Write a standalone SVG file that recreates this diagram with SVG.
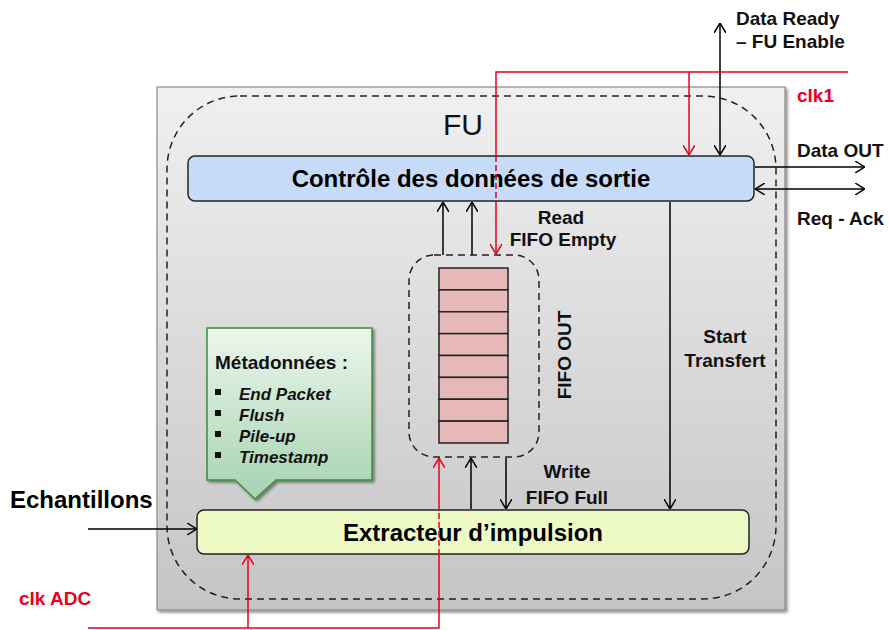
<svg xmlns="http://www.w3.org/2000/svg" width="889" height="630" viewBox="0 0 889 630">
<defs>
<linearGradient id="gFU" x1="0" y1="0" x2="0" y2="1">
<stop offset="0" stop-color="#f0f0f0"/>
<stop offset="1" stop-color="#c5c5c5"/>
</linearGradient>
<linearGradient id="gMeta" x1="0" y1="0" x2="0" y2="1">
<stop offset="0" stop-color="#ecf6ec"/>
<stop offset="1" stop-color="#a6d3b0"/>
</linearGradient>
<filter id="sh" x="-5%" y="-5%" width="110%" height="110%">
<feGaussianBlur in="SourceAlpha" stdDeviation="1.5"/>
<feOffset dx="1.5" dy="2" result="b"/>
<feComponentTransfer><feFuncA type="linear" slope="0.45"/></feComponentTransfer>
<feMerge><feMergeNode/><feMergeNode in="SourceGraphic"/></feMerge>
</filter>
<marker id="ak" viewBox="0 0 10 12" refX="10" refY="6" markerWidth="10" markerHeight="12" markerUnits="userSpaceOnUse" orient="auto-start-reverse">
<path d="M0,0 L10,6 L0,12" fill="none" stroke="#000" stroke-width="1.5"/>
</marker>
<marker id="ar" viewBox="0 0 10 12" refX="10" refY="6" markerWidth="10" markerHeight="12" markerUnits="userSpaceOnUse" orient="auto-start-reverse">
<path d="M0,0 L10,6 L0,12" fill="none" stroke="#e8001c" stroke-width="1.5"/>
</marker>
</defs>
<style>
text{font-family:"Liberation Sans",Arial,sans-serif;}
.b{font-weight:bold;fill:#000;}
.lbl{font-size:19px;font-weight:bold;fill:#111;}
.red{font-size:19px;font-weight:bold;fill:#e8001c;}
.bx{stroke:#222;stroke-width:1.5;}
.k{fill:none;stroke:#000;stroke-width:1.5;}
.r{fill:none;stroke:#e8001c;stroke-width:1.5;}
.rd{fill:none;stroke:#e8001c;stroke-width:1.5;stroke-dasharray:6 3;}
.dash{fill:none;stroke:#222;stroke-width:1.5;stroke-dasharray:7 5;}
.cell{fill:#e6b8b7;stroke:#222;stroke-width:1.5;}
.it{font-size:17px;font-weight:bold;font-style:italic;fill:#111;}
</style>
<rect width="889" height="630" fill="#fff"/>
<g id="fu">
<rect x="157" y="87" width="628" height="523" fill="url(#gFU)" stroke="#8a8a8a" stroke-width="1.2" filter="url(#sh)"/>
<rect x="167" y="96" width="609" height="503" rx="73" class="dash"/>
<text x="463" y="135" text-anchor="middle" font-size="30" fill="#111">FU</text>
</g>
<g id="controle">
<rect x="188" y="156" width="566" height="45" rx="7" fill="#c6dbf7" class="bx"/>
<text x="471" y="187" text-anchor="middle" class="b" font-size="24">Contrôle des données de sortie</text>
</g>
<g id="extracteur">
<rect x="197" y="510" width="552" height="44" rx="7" fill="#eefac6" class="bx"/>
<text x="473" y="541" text-anchor="middle" class="b" font-size="24">Extracteur d’impulsion</text>
</g>
<g id="fifo">
<rect x="409" y="255" width="130" height="202" rx="25" class="dash"/>
<rect x="439" y="268" width="69" height="21.875" class="cell"/>
<rect x="439" y="289.875" width="69" height="21.875" class="cell"/>
<rect x="439" y="311.75" width="69" height="21.875" class="cell"/>
<rect x="439" y="333.625" width="69" height="21.875" class="cell"/>
<rect x="439" y="355.5" width="69" height="21.875" class="cell"/>
<rect x="439" y="377.375" width="69" height="21.875" class="cell"/>
<rect x="439" y="399.25" width="69" height="21.875" class="cell"/>
<rect x="439" y="421.125" width="69" height="21.875" class="cell"/>
<text transform="translate(571 355) rotate(-90)" text-anchor="middle" class="lbl">FIFO OUT</text>
</g>
<g id="metadonnees">
<path d="M207,328 H372 V480 H276 L255,499 L235,480 H207 Z" fill="url(#gMeta)" stroke="#3b8f3b" stroke-width="1.5" filter="url(#sh)"/>
<text x="215" y="369" class="lbl">Métadonnées :</text>
<rect x="215" y="389" width="6" height="6" fill="#111"/>
<rect x="215" y="410" width="6" height="6" fill="#111"/>
<rect x="215" y="431" width="6" height="6" fill="#111"/>
<rect x="215" y="452" width="6" height="6" fill="#111"/>
<text x="239" y="400" class="it">End Packet</text>
<text x="239" y="421" class="it">Flush</text>
<text x="239" y="442" class="it">Pile-up</text>
<text x="239" y="463" class="it">Timestamp</text>
</g>
<g id="connectors">
<line x1="88" y1="529" x2="197" y2="529" class="k" marker-end="url(#ak)"/>
<line x1="443" y1="255" x2="443" y2="202" class="k" marker-end="url(#ak)"/>
<line x1="472" y1="255" x2="472" y2="202" class="k" marker-end="url(#ak)"/>
<line x1="720" y1="155" x2="720" y2="23" class="k" marker-start="url(#ak)" marker-end="url(#ak)"/>
<line x1="755" y1="167" x2="865" y2="167" class="k" marker-end="url(#ak)"/>
<line x1="755" y1="189" x2="865" y2="189" class="k" marker-start="url(#ak)" marker-end="url(#ak)"/>
<line x1="670" y1="202" x2="670" y2="509" class="k" marker-end="url(#ak)"/>
<line x1="471" y1="509" x2="471" y2="458" class="k" marker-end="url(#ak)"/>
<line x1="506" y1="458" x2="506" y2="509" class="k" marker-end="url(#ak)"/>
<path d="M848,72 H496 V156" class="r"/>
<line x1="496" y1="156" x2="496" y2="201" class="rd"/>
<path d="M496,201 V254" class="r" marker-end="url(#ar)"/>
<path d="M689,72 V155" class="r" marker-end="url(#ar)"/>
<path d="M88,628 H439 V555" class="r"/>
<line x1="439" y1="555" x2="439" y2="510" class="rd"/>
<path d="M439,510 V458" class="r" marker-end="url(#ar)"/>
<path d="M248,628 V555" class="r" marker-end="url(#ar)"/>
</g>
<g id="labels">
<text x="10" y="508" class="b" font-size="24">Echantillons</text>
<text x="19" y="605" class="red">clk ADC</text>
<text x="797" y="102" class="red">clk1</text>
<text x="736" y="25" class="lbl">Data Ready</text>
<text x="736" y="48" class="lbl">– FU Enable</text>
<text x="797" y="157" class="lbl">Data OUT</text>
<text x="797" y="225" class="lbl">Req - Ack</text>
<text x="561" y="224" text-anchor="middle" class="lbl">Read</text>
<text x="563" y="246" text-anchor="middle" class="lbl">FIFO Empty</text>
<text x="725" y="343" text-anchor="middle" class="lbl">Start</text>
<text x="725" y="367" text-anchor="middle" class="lbl">Transfert</text>
<text x="567" y="478" text-anchor="middle" class="lbl">Write</text>
<text x="567" y="504" text-anchor="middle" class="lbl">FIFO Full</text>
</g>
</svg>
